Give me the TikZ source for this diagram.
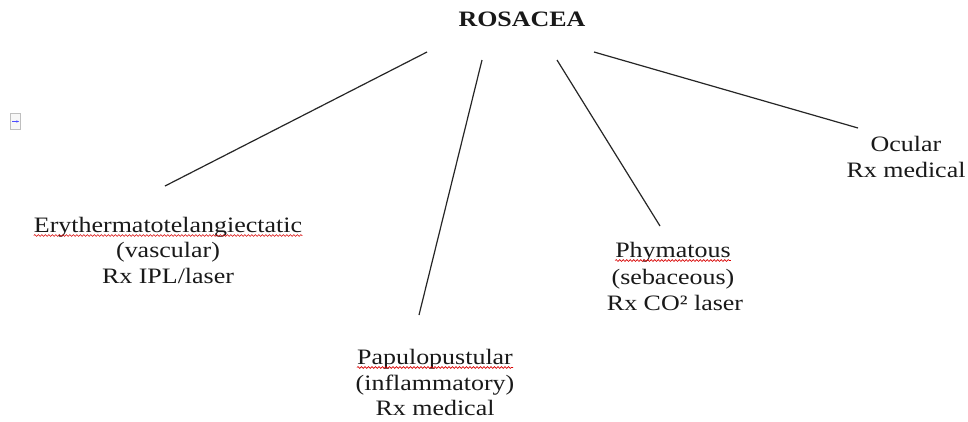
\documentclass[tikz,border=0pt]{standalone}
\usepackage{fontspec}
\setmainfont[FakeStretch=1.18]{Liberation Serif}
\usetikzlibrary{decorations.pathmorphing,arrows.meta}
\begin{document}
\begin{tikzpicture}[x=1pt,y=-1pt,
  txt/.style={anchor=base,inner sep=0pt,font=\fontsize{22}{26}\selectfont,text=black!90},
  ttl/.style={txt,font=\fontsize{22}{26}\selectfont\bfseries},
  conn/.style={draw=black!85,line width=1.2pt},
  spell/.style={draw=red!85!black,line width=0.6pt,decorate,decoration={snake,amplitude=0.9pt,segment length=3.5pt}}]
\useasboundingbox (0,0) rectangle (968,421);
\fill[white] (0,0) rectangle (968,421);
% title
\node[ttl] (title) at (522,26) {ROSACEA};
% branch texts
\node[txt] (ery1) at (168,232) {Erythermatotelangiectatic};
\node[txt] (ery2) at (168,257) {(vascular)};
\node[txt] (ery3) at (168,283) {Rx IPL/laser};
\node[txt] (pap1) at (435,364) {Papulopustular};
\node[txt] (pap2) at (435,390) {(inflammatory)};
\node[txt] (pap3) at (435,415) {Rx medical};
\node[txt] (phy1) at (673,257) {Phymatous};
\node[txt] (phy2) at (673,284) {(sebaceous)};
\node[txt] (phy3) at (675,310) {Rx CO² laser};
\node[txt] (ocu1) at (906,151) {Ocular};
\node[txt] (ocu2) at (906,177) {Rx medical};
% connector ends
\coordinate (s1) at (427,52);
\coordinate (e1) at (165,186);
\coordinate (s2) at (482,60);
\coordinate (e2) at (419,315);
\coordinate (s3) at (557,60);
\coordinate (e3) at (660,226);
\coordinate (s4) at (594,52);
\coordinate (e4) at (858,128);
\draw[conn] (s1) -- (e1);
\draw[conn] (s2) -- (e2);
\draw[conn] (s3) -- (e3);
\draw[conn] (s4) -- (e4);
% spell-check underlines
\draw[spell] ([yshift=-3.5pt]ery1.base west) -- ([yshift=-3.5pt]ery1.base east);
\draw[spell] ([yshift=-3.5pt]pap1.base west) -- ([yshift=-3.5pt]pap1.base east);
\draw[spell] ([yshift=-3.5pt]phy1.base west) -- ([yshift=-3.5pt]phy1.base east);
% small anchor icon
\node[draw=black!25,fill=black!3,minimum width=10pt,minimum height=16pt,inner sep=0pt] (icon) at (15.5,121.5) {};
\draw[blue!70,line width=1.2pt,-{Stealth[length=3pt]}] ([xshift=2pt]icon.west) -- ([xshift=-1.5pt]icon.east);
\end{tikzpicture}
\end{document}
